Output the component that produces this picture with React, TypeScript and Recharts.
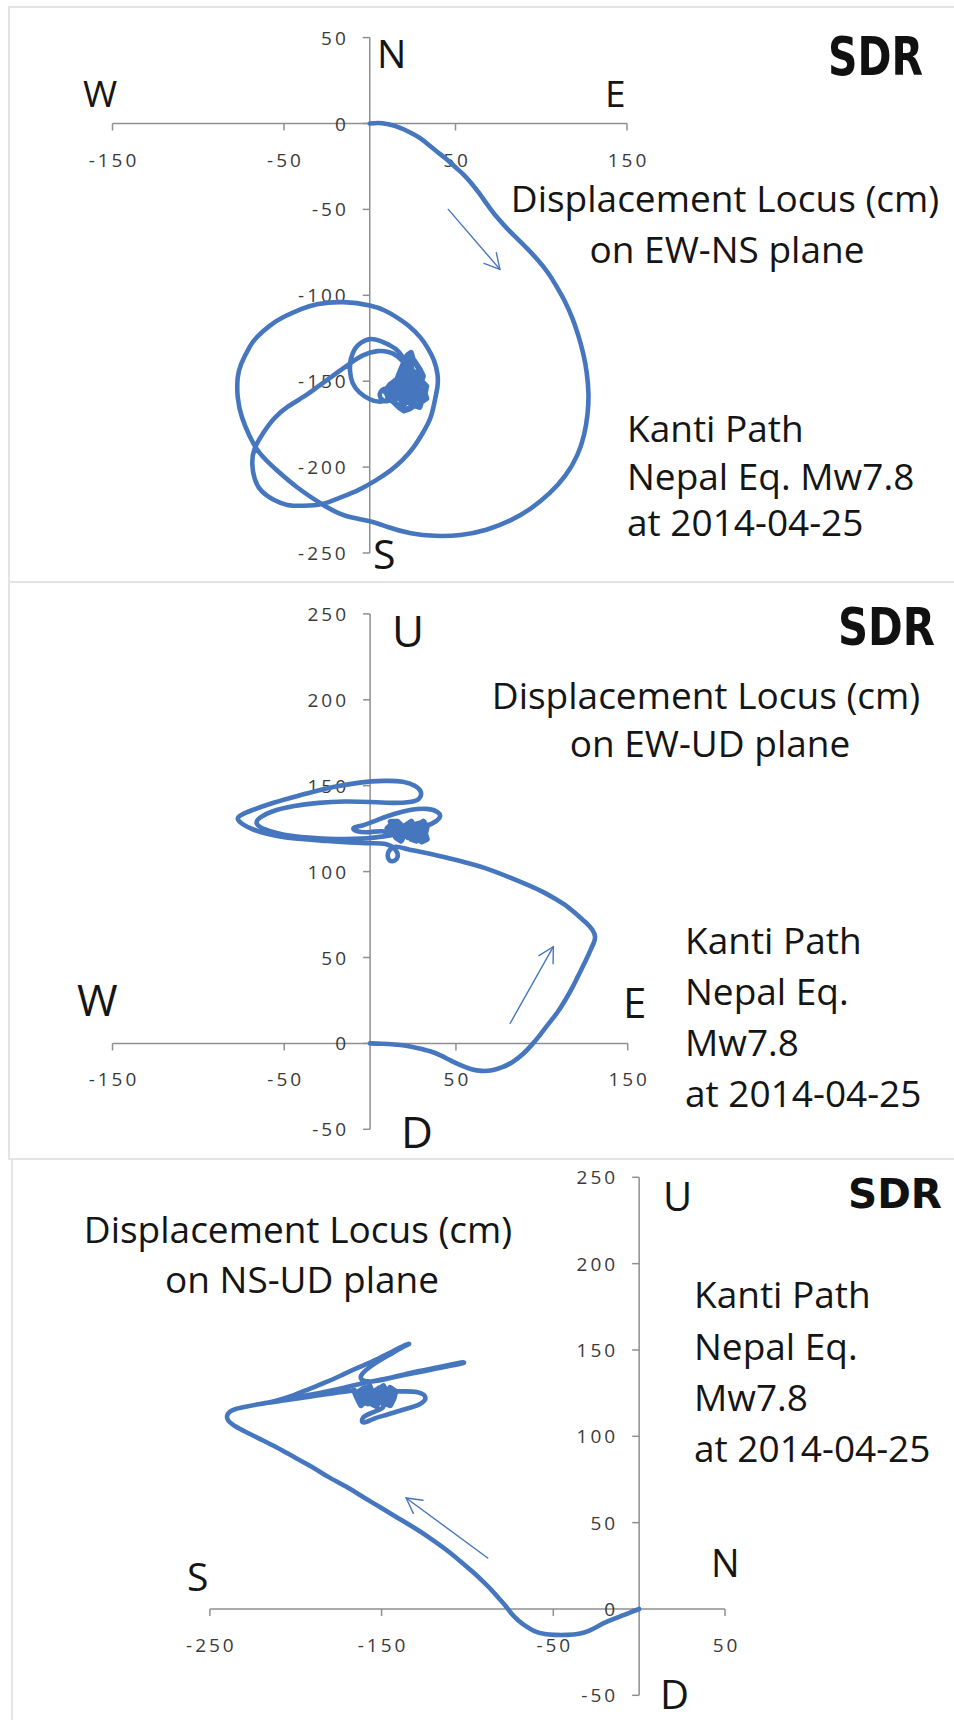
import { ScatterChart, Scatter, XAxis, YAxis, ReferenceLine, ReferenceDot } from 'recharts';

const BLUE = '#4677be';
const AXIS = '#8f8f8f';
const TICK_TEXT = '#3a3a3a';
const INK = '#151515';

// EW-NS plane: [EW, NS] in cm
const ewNsPath: [number, number][] = [
  [0, 0], [5, 0.3], [10, -0.3], [15, -1.5], [20, -3.5], [25, -6], [30, -9], [35, -13], [40, -17], [45, -21],
  [50, -25.5], [55, -30], [59, -34.5], [63, -39.5], [67, -45], [71, -50.5], [75, -55.5], [80, -61], [86, -67],
  [92, -73], [98, -79.5], [104, -87], [109, -95], [114, -104], [118, -113], [121.5, -123], [124.5, -134],
  [126.5, -145], [127.5, -157], [127, -169], [125, -181], [121, -193], [114, -205], [105, -215], [94, -224],
  [82, -231], [68, -236.5], [53, -239.5], [38, -240], [24, -238.5], [11, -235], [0, -231.5], [-15, -228],
  [-28, -221.5], [-42, -212], [-54, -202], [-64, -192], [-70, -182], [-74.5, -171], [-77, -159], [-77, -148],
  [-75, -140], [-70, -130], [-65.5, -124], [-58, -117.5], [-50, -112.5], [-40, -108], [-30, -105], [-15, -104],
  [0, -106], [9, -109], [16, -113], [23, -118], [29.5, -124.5], [34, -131], [37.5, -138], [39.5, -146],
  [39.5, -153], [38, -161], [35.5, -171], [31, -180], [25.5, -188.5], [19, -196], [12, -202], [3, -208],
  [-7, -213.5], [-18, -218], [-28, -221.5], [-38.5, -222.5], [-48, -222], [-56, -219], [-63, -214], [-67, -207],
  [-68.5, -198], [-67, -189], [-62, -180], [-56, -172], [-48, -165], [-38.5, -159], [-30, -153], [-21, -146.5],
  [-12, -140], [-4, -135], [4.5, -132.5], [11, -133], [16, -135.5], [21, -139.5],
  [17, -133], [11.5, -129], [6, -126.5], [0, -125.5], [-5, -127.5], [-8.5, -131], [-11, -137], [-11.5, -144],
  [-10, -151], [-6, -156.5], [0, -160.5], [6, -162], [11, -160.5], [13.5, -157],
  [10, -154.5], [6.5, -156], [6.5, -160], [10.5, -161.5], [14, -159],
];
const ewNsBlob: [number, number][] = [
  [14, -159], [9, -156], [12, -152], [16, -149], [18, -144], [20, -139], [22, -135], [24, -133.5], [25, -137],
  [27, -140], [29, -143], [31, -147], [30, -150], [33, -153], [32, -157], [33, -160], [30, -162], [29, -165],
  [26, -164], [23, -166], [20, -167], [17, -165], [14, -162], [11, -160], [10, -157],
  [15, -156], [19, -150], [23, -143], [26, -146], [21, -153], [17, -160], [21, -162], [25, -155], [29, -149],
  [28, -155], [24, -160], [27, -158], [30, -155], [26, -151], [22, -157], [18, -156], [23, -150], [20, -145],
  [24, -140], [22, -146], [27, -145], [25, -149], [19, -154], [15, -159], [20, -159], [24, -163], [27, -161],
  [31, -158], [28, -152], [25, -146], [23, -138], [21, -142], [18, -147], [14, -155], [17, -152], [21, -149],
  [26, -154], [23, -161], [19, -164], [18, -158], [22, -151], [25, -144], [28, -148], [24, -156], [20, -156],
  [16, -158], [13, -158],
];
const ewNsXTicks = [-150, -50, 50, 150];
const ewNsYTicks = [50, 0, -50, -100, -150, -200, -250];
const ewNsArrow: [number, number][] = [[45.8, -50], [75.9, -84.9]];

// EW-UD plane: [EW, UD] in cm
const ewUdPath: [number, number][] = [
  [0, 0], [7, -0.2], [14, -0.6], [21, -1.4], [28, -2.8], [35, -4.6], [41, -7], [47, -10], [53, -12.8], [59, -15],
  [65, -16], [71, -15.6], [77, -13.8], [83, -10.8], [89, -6.2], [94, -1], [99, 5], [104, 11.5], [109, 18],
  [113.5, 25], [117.5, 32], [121, 39], [124.5, 46], [127.5, 52.5], [130, 58], [131, 62], [129.5, 66], [126, 70],
  [121, 74.5], [115, 79.5], [108, 84], [100, 88.5], [90, 93], [79, 97.5], [67, 102], [55, 105.5], [43, 108.5],
  [32, 111], [22, 113], [15, 114.5],
  [11, 112], [10.5, 108], [13, 106], [16, 108.5], [14.5, 113], [9, 116], [0, 116.5], [-12, 117], [-25, 117.8],
  [-38, 118.8], [-50, 120], [-60, 122], [-68, 124.5], [-74, 127.5], [-77, 130.5], [-75, 133], [-68, 136],
  [-58, 139.5], [-46, 143], [-33, 146.5], [-20, 149.5], [-6, 151.8], [8, 152.8], [19, 152.3], [26, 150],
  [29.5, 146.5], [28.5, 142.5], [23, 140.5], [13, 140], [0, 140.5], [-15, 140.8], [-30, 140], [-45, 138],
  [-57, 135], [-64, 131.5], [-66, 128], [-61, 124.5], [-50, 121.5], [-36, 119.8], [-20, 119], [-5, 119.2],
  [8, 120.5], [20, 122.5], [30, 125.5], [37, 128.5], [40.5, 131.5], [39.5, 134.5], [33, 136.5], [24, 136],
  [14, 133.5], [4, 130], [-4, 127], [-9.5, 125.5], [-7.5, 123.5], [0, 123], [7, 123.5], [12, 122],
];
const ewUdBlob: [number, number][] = [
  [12, 122], [10, 125], [13, 128], [16, 124], [15, 120], [18, 118], [20, 122], [21, 127], [24, 129], [25, 124],
  [24, 119], [27, 118], [29, 122], [28, 127], [31, 129], [33, 126], [32, 122], [33, 119], [30, 117.5], [27, 121],
  [26, 126], [23, 127], [22, 123], [19, 120], [17, 123], [14, 126], [12, 129], [16, 129], [19, 126], [22, 120],
  [25, 121], [29, 125], [31, 121], [30, 126], [27, 124], [24, 126], [21, 124], [18, 127], [15, 122], [13, 124],
  [17, 121], [20, 125], [23, 121], [26, 122], [28, 120], [31, 124], [29, 128], [25, 127], [22, 125], [19, 123],
  [16, 126],
];
const ewUdXTicks = [-150, -50, 50, 150];
const ewUdYTicks = [250, 200, 150, 100, 50, 0, -50];
const ewUdArrow: [number, number][] = [[81.5, 11.6], [106.7, 56.3]];

// NS-UD plane: [NS, UD] in cm
const nsUdPath: [number, number][] = [
  [0, 0], [-4, -1.5], [-9, -3.5], [-14, -5.5], [-19, -7.5], [-24, -10], [-29, -12.5], [-35, -14.3], [-42, -15],
  [-49, -15], [-55, -14.5], [-61, -12.8], [-66, -10], [-70.5, -6.5], [-74.5, -2.5], [-78, 2], [-82, 6.5],
  [-86, 11], [-91, 16], [-97, 21.5], [-104, 27.5], [-112, 34], [-121, 40.5], [-131, 47], [-141, 53], [-151, 59],
  [-161, 65], [-171, 71], [-181, 76.5], [-191, 82.5], [-201, 88], [-211, 93.5], [-221, 98.5], [-229, 102.5],
  [-235.5, 106], [-239.5, 109.5], [-239.5, 113], [-236, 115.5], [-230, 117], [-222, 118.5], [-212, 120.5],
  [-202, 123.5], [-192, 127.5], [-182, 131.5], [-172, 136], [-163, 140], [-155, 143.5], [-147, 147.5],
  [-141, 150.5], [-136, 153], [-134, 153.5], [-137, 152], [-144, 148], [-151, 144], [-157, 140], [-161, 136.5],
  [-162, 133.5], [-158, 131.8], [-149, 132.8], [-137, 135.5], [-124, 138], [-112, 140.5], [-104, 142],
  [-102, 142.8], [-106, 142.3], [-118, 139.8], [-132, 137], [-147, 133.5], [-162, 130.5], [-177, 127],
  [-192, 124], [-206, 121], [-216, 119.5], [-207, 120.8], [-193, 122.8], [-178, 125], [-166, 126.5],
];
const nsUdBlob: [number, number][] = [
  [-166, 126.5], [-164, 122], [-162, 118], [-159, 121], [-160, 126], [-157, 129], [-155, 124], [-156, 119],
  [-153, 117.5], [-151, 122], [-152, 127], [-149, 129], [-147, 124], [-148, 119], [-145, 118], [-143, 122],
  [-142, 126], [-145, 128], [-146, 123], [-150, 120], [-154, 121], [-157, 124], [-161, 123], [-163, 126],
  [-160, 128], [-156, 126], [-153, 123], [-150, 125], [-147, 127], [-144, 124], [-146, 120], [-149, 122],
  [-152, 119], [-155, 122], [-158, 119], [-161, 120], [-158, 124], [-154, 126], [-151, 128], [-148, 126],
  [-145, 122], [-144, 126],
];
const nsUdTail: [number, number][] = [
  [-144, 126], [-137, 126], [-129, 125.5], [-124.5, 122.5], [-128, 118.5], [-137, 115.5], [-147, 112.5],
  [-155, 110], [-160.5, 108], [-161, 110.5], [-156, 113.5], [-149, 117], [-152, 121], [-155, 124],
];
const nsUdXTicks = [-250, -150, -50, 50];
const nsUdYTicks = [250, 200, 150, 100, 50, 0, -50];
const nsUdArrow: [number, number][] = [[-88.2, 29.5], [-135.7, 64.3]];

const tickFont = { fontFamily: '"Open Sans", sans-serif', fontSize: 19, letterSpacing: 3, fill: TICK_TEXT };

const xTick = (v: number) => (p: any) => (
  <g>
    <line x1={p.cx} y1={p.cy} x2={p.cx} y2={p.cy + 7} stroke={AXIS} strokeWidth={1.5} />
    <text x={p.cx + 1.5} y={p.cy + 36} textAnchor="middle" dominantBaseline="central" {...tickFont}>{v}</text>
  </g>
);

const yTick = (v: number) => (p: any) => (
  <g>
    <line x1={p.cx - 7} y1={p.cy} x2={p.cx} y2={p.cy} stroke={AXIS} strokeWidth={1.5} />
    <text x={p.cx - 21} y={p.cy} textAnchor="end" dominantBaseline="central" {...tickFont}>{v}</text>
  </g>
);

const arrowShape = (p: any) => {
  const { x1, y1, x2, y2 } = p;
  const ang = Math.atan2(y2 - y1, x2 - x1);
  const len = 17;
  const spread = 0.5;
  const w1 = [x2 - len * Math.cos(ang - spread), y2 - len * Math.sin(ang - spread)];
  const w2 = [x2 - len * Math.cos(ang + spread), y2 - len * Math.sin(ang + spread)];
  return (
    <g stroke={BLUE} strokeWidth={1.4} fill="none" strokeLinecap="round">
      <line x1={x1} y1={y1} x2={x2} y2={y2} />
      <polyline points={`${w1[0]},${w1[1]} ${x2},${y2} ${w2[0]},${w2[1]}`} />
    </g>
  );
};

const noDot = () => <g />;

type Segment = { pts: [number, number][]; curve: 'natural' | 'linear'; width: number };

type PanelProps = {
  top: number;
  height: number;
  margin: { top: number; right: number; bottom: number; left: number };
  xDomain: [number, number];
  yDomain: [number, number];
  segments: Segment[];
  xTicks: number[];
  yTicks: number[];
  arrow: [number, number][];
};

function LocusChart({ top, height, margin, xDomain, yDomain, segments, xTicks, yTicks, arrow }: PanelProps) {
  return (
    <div style={{ position: 'absolute', left: 0, top, width: 954, height }}>
      <ScatterChart width={954} height={height} margin={margin}>
        <XAxis type="number" dataKey="x" domain={xDomain} hide allowDataOverflow />
        <YAxis type="number" dataKey="y" domain={yDomain} hide allowDataOverflow />
        <ReferenceLine y={0} stroke={AXIS} strokeWidth={1.5} />
        <ReferenceLine x={0} stroke={AXIS} strokeWidth={1.5} />
        {xTicks.map((v) => (
          <ReferenceDot key={'x' + v} x={v} y={0} ifOverflow="visible" shape={xTick(v)} />
        ))}
        {yTicks.map((v) => (
          <ReferenceDot key={'y' + v} x={0} y={v} ifOverflow="visible" shape={yTick(v)} />
        ))}
        {segments.map((s, i) => (
          <Scatter
            key={i}
            data={s.pts.map(([x, y]) => ({ x, y }))}
            fill={BLUE}
            line={{ stroke: BLUE, strokeWidth: s.width, strokeLinejoin: 'round', strokeLinecap: 'round' }}
            lineJointType={s.curve}
            shape={noDot}
            isAnimationActive={false}
          />
        ))}
        <ReferenceLine
          segment={[{ x: arrow[0][0], y: arrow[0][1] }, { x: arrow[1][0], y: arrow[1][1] }]}
          ifOverflow="visible"
          shape={arrowShape}
        />
      </ScatterChart>
    </div>
  );
}

const big = { fontFamily: '"Open Sans", sans-serif', fill: INK };
const logo = {
  fontFamily: '"DejaVu Sans Condensed", "DejaVu Sans", sans-serif',
  fontWeight: 'bold' as const,
  fill: '#111',
  lengthAdjust: 'spacingAndGlyphs' as const,
};

export default function App() {
  return (
    <div style={{ position: 'absolute', left: 0, top: 0, width: 954, height: 1720, background: '#fff', overflow: 'hidden' }}>
      <div style={{ position: 'absolute', left: 8, top: 6, width: 960, height: 577, border: '2px solid #e4e4e4', boxSizing: 'border-box' }} />
      <div style={{ position: 'absolute', left: 8, top: 581, width: 960, height: 579, border: '2px solid #e4e4e4', borderTop: 'none', boxSizing: 'border-box' }} />
      <div style={{ position: 'absolute', left: 11, top: 1158, width: 960, height: 600, borderLeft: '2px solid #e4e4e4', boxSizing: 'border-box' }} />

      <LocusChart top={0} height={580} margin={{ top: 37.6, right: 327, bottom: 27, left: 112.5 }}
        xDomain={[-150, 150]} yDomain={[-250, 50]}
        segments={[{ pts: ewNsPath, curve: 'natural', width: 4.6 }, { pts: ewNsBlob, curve: 'linear', width: 6 }]}
        xTicks={ewNsXTicks} yTicks={ewNsYTicks} arrow={ewNsArrow} />
      <LocusChart top={580} height={580} margin={{ top: 33.9, right: 326.3, bottom: 30.7, left: 112.5 }}
        xDomain={[-150, 150]} yDomain={[-50, 250]}
        segments={[{ pts: ewUdPath, curve: 'natural', width: 4.6 }, { pts: ewUdBlob, curve: 'linear', width: 6 }]}
        xTicks={ewUdXTicks} yTicks={ewUdYTicks} arrow={ewUdArrow} />
      <LocusChart top={1150} height={570} margin={{ top: 27.3, right: 229, bottom: 24.7, left: 209.9 }}
        xDomain={[-250, 50]} yDomain={[-50, 250]}
        segments={[
          { pts: nsUdPath, curve: 'natural', width: 4.6 },
          { pts: nsUdBlob, curve: 'linear', width: 6 },
          { pts: nsUdTail, curve: 'natural', width: 4.6 },
        ]}
        xTicks={nsUdXTicks} yTicks={nsUdYTicks} arrow={nsUdArrow} />

      <svg width={954} height={1720} style={{ position: 'absolute', left: 0, top: 0, pointerEvents: 'none' }}>
        {/* panel 1 */}
        <text x={377} y={68} fontSize={39} {...big}>N</text>
        <text x={83} y={107} fontSize={37} {...big}>W</text>
        <text x={605} y={107} fontSize={37} {...big}>E</text>
        <text x={373} y={569} fontSize={41} {...big}>S</text>
        <text x={725} y={212} fontSize={37} textAnchor="middle" {...big}>Displacement Locus (cm)</text>
        <text x={727} y={263} fontSize={37} textAnchor="middle" {...big}>on EW-NS plane</text>
        <text x={627} y={442} fontSize={37} {...big}>Kanti Path</text>
        <text x={627} y={490} fontSize={37} {...big}>Nepal Eq. Mw7.8</text>
        <text x={627} y={536} fontSize={37} {...big}>at 2014-04-25</text>
        <text x={828} y={75} fontSize={54} textLength={95} {...logo}>SDR</text>

        {/* panel 2 */}
        <text x={392} y={647} fontSize={44} {...big}>U</text>
        <text x={77} y={1016} fontSize={44} {...big}>W</text>
        <text x={623} y={1018} fontSize={42} {...big}>E</text>
        <text x={401} y={1148} fontSize={44} {...big}>D</text>
        <text x={706} y={709} fontSize={37} textAnchor="middle" {...big}>Displacement Locus (cm)</text>
        <text x={710} y={757} fontSize={37} textAnchor="middle" {...big}>on EW-UD plane</text>
        <text x={685} y={954} fontSize={37} {...big}>Kanti Path</text>
        <text x={685} y={1005} fontSize={37} {...big}>Nepal Eq.</text>
        <text x={685} y={1056} fontSize={37} {...big}>Mw7.8</text>
        <text x={685} y={1107} fontSize={37} {...big}>at 2014-04-25</text>
        <text x={838} y={645} fontSize={52} textLength={97} {...logo}>SDR</text>

        {/* panel 3 */}
        <text x={663} y={1211} fontSize={40} {...big}>U</text>
        <text x={187} y={1591} fontSize={39} {...big}>S</text>
        <text x={711} y={1577} fontSize={38} {...big}>N</text>
        <text x={660} y={1709} fontSize={40} {...big}>D</text>
        <text x={298} y={1243} fontSize={37} textAnchor="middle" {...big}>Displacement Locus (cm)</text>
        <text x={302} y={1293} fontSize={37} textAnchor="middle" {...big}>on NS-UD plane</text>
        <text x={694} y={1308} fontSize={37} {...big}>Kanti Path</text>
        <text x={694} y={1360} fontSize={37} {...big}>Nepal Eq.</text>
        <text x={694} y={1411} fontSize={37} {...big}>Mw7.8</text>
        <text x={694} y={1462} fontSize={37} {...big}>at 2014-04-25</text>
        <text x={848} y={1208} fontSize={40} textLength={94} {...logo}>SDR</text>
      </svg>
    </div>
  );
}
